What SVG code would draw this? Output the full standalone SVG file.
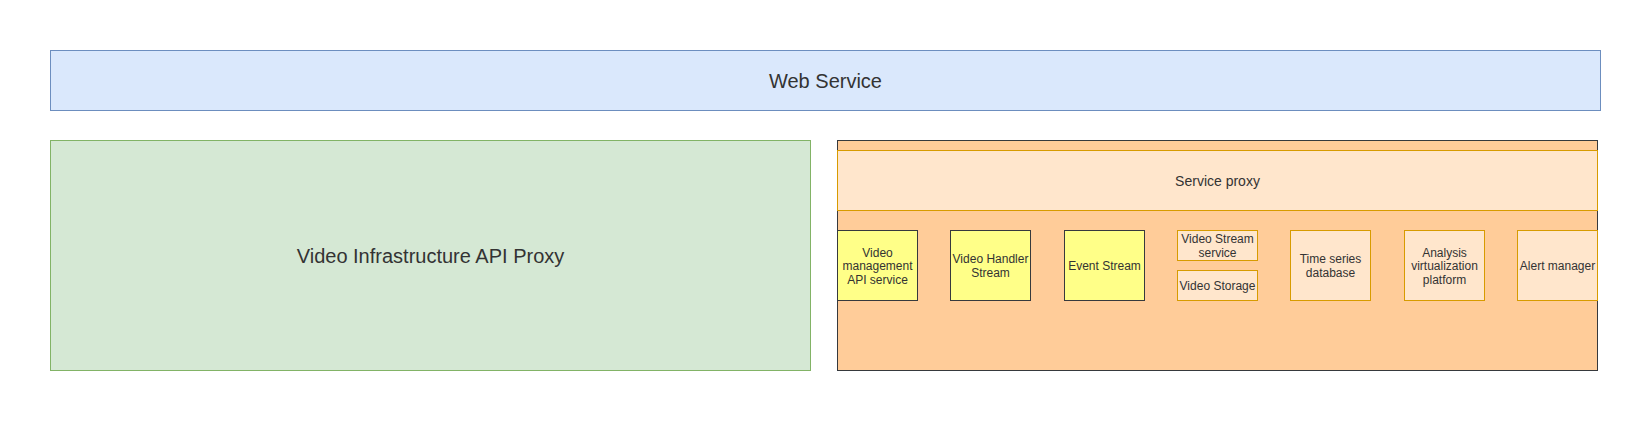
<svg xmlns="http://www.w3.org/2000/svg" width="1651" height="421" viewBox="0 0 1651 421">
<style>
text{font-family:"Liberation Sans",Arial,Helvetica,sans-serif;fill:#333333;text-anchor:middle}
.big{font-size:20px}
.mid{font-size:14px}
.sm{font-size:12px}
.yellow{fill:#ffff88;stroke:#36393d;stroke-width:1}
.peach{fill:#ffe6cc;stroke:#d79b00;stroke-width:1}
</style>
<rect width="1651" height="421" fill="#ffffff"/>
<g id="web-service">
<rect x="50.5" y="50.5" width="1550" height="60" fill="#dae8fc" stroke="#6c8ebf"/>
<text class="big" x="825.5" y="87.5">Web Service</text>
</g>
<g id="video-infra-api-proxy">
<rect x="50.5" y="140.5" width="760" height="230" fill="#d5e8d4" stroke="#82b366"/>
<text class="big" x="430.5" y="262.5">Video Infrastructure API Proxy</text>
</g>
<g id="services-container">
<rect x="837.5" y="140.5" width="760" height="230" fill="#ffcc99" stroke="#36393d"/>
</g>
<g id="service-proxy">
<rect x="837.5" y="150.5" width="760" height="60" class="peach"/>
<text class="mid" x="1217.5" y="185.5">Service proxy</text>
</g>
<g id="video-management-api-service">
<rect x="837.5" y="230.5" width="80" height="70" class="yellow"/>
<text class="sm" x="877.5" y="256.5">Video</text>
<text class="sm" x="877.5" y="270.3">management</text>
<text class="sm" x="877.5" y="284">API service</text>
</g>
<g id="video-handler-stream">
<rect x="950.5" y="230.5" width="80" height="70" class="yellow"/>
<text class="sm" x="990.5" y="263.3">Video Handler</text>
<text class="sm" x="990.5" y="277">Stream</text>
</g>
<g id="event-stream">
<rect x="1064.5" y="230.5" width="80" height="70" class="yellow"/>
<text class="sm" x="1104.5" y="270">Event Stream</text>
</g>
<g id="video-stream-service">
<rect x="1177.5" y="230.5" width="80" height="30" class="peach"/>
<text class="sm" x="1217.5" y="243.3">Video Stream</text>
<text class="sm" x="1217.5" y="256.8">service</text>
</g>
<g id="video-storage">
<rect x="1177.5" y="270.5" width="80" height="30" class="peach"/>
<text class="sm" x="1217.5" y="290">Video Storage</text>
</g>
<g id="time-series-database">
<rect x="1290.5" y="230.5" width="80" height="70" class="peach"/>
<text class="sm" x="1330.5" y="263.3">Time series</text>
<text class="sm" x="1330.5" y="277">database</text>
</g>
<g id="analysis-virtualization-platform">
<rect x="1404.5" y="230.5" width="80" height="70" class="peach"/>
<text class="sm" x="1444.5" y="256.5">Analysis</text>
<text class="sm" x="1444.5" y="270.3">virtualization</text>
<text class="sm" x="1444.5" y="284">platform</text>
</g>
<g id="alert-manager">
<rect x="1517.5" y="230.5" width="80" height="70" class="peach"/>
<text class="sm" x="1557.5" y="270">Alert manager</text>
</g>
<g id="connectors"></g>
</svg>
